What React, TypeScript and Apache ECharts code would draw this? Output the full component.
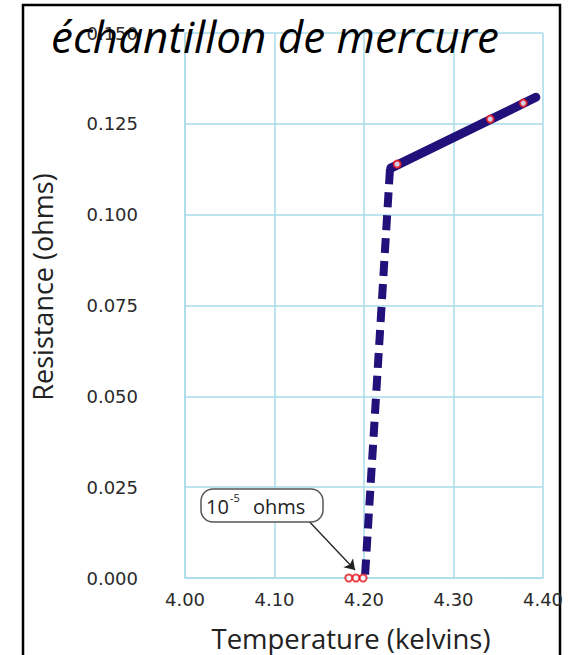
import React, { useEffect, useRef } from "react";
import * as echarts from "echarts";

const xTicks = [4.0, 4.1, 4.2, 4.3, 4.4];
const yTicks = [0, 0.025, 0.05, 0.075, 0.1, 0.125, 0.15];
const normalLine: [number, number][] = [
  [4.23, 0.1128],
  [4.392, 0.1323],
];
const transitionLine: [number, number][] = [
  [4.229, 0.1125],
  [4.201, 0.0],
];
const measured: [number, number][] = [
  [4.237, 0.1139],
  [4.341, 0.1263],
  [4.378, 0.1307],
  [4.183, 0.0],
  [4.191, 0.0],
  [4.199, 0.0],
];
const arrowFrom: [number, number] = [4.134, 0.0168];
const arrowTo: [number, number] = [4.19, 0.0022];

const TITLE = "échantillon de mercure";
const X_NAME = "Temperature (kelvins)";
const Y_NAME = "Resistance (ohms)";

export default function App() {
  const ref = useRef<HTMLDivElement>(null);
  useEffect(() => {
    if (!ref.current) return;
    const chart = echarts.init(ref.current, null, { renderer: "svg" });
    const grid = "#a9dcea";
    const navy = "#22117a";
    chart.setOption({
      animation: false,
      backgroundColor: "#ffffff",
      grid: { left: 185, right: 28, top: 33, bottom: 77 },
      xAxis: {
        type: "value",
        min: xTicks[0],
        max: xTicks[xTicks.length - 1],
        interval: 0.1,
        axisLine: { show: true, lineStyle: { color: grid, width: 1.5 } },
        axisTick: { show: false },
        splitLine: { show: true, lineStyle: { color: grid, width: 1.5 } },
        axisLabel: {
          margin: 12,
          fontFamily: "DejaVu Sans",
          fontSize: 18,
          color: "#2a2a2a",
          formatter: (v: number) => v.toFixed(2),
        },
      },
      yAxis: {
        type: "value",
        min: yTicks[0],
        max: yTicks[yTicks.length - 1],
        interval: 0.025,
        axisLine: { show: true, lineStyle: { color: grid, width: 1.5 } },
        axisTick: { show: false },
        splitLine: { show: true, lineStyle: { color: grid, width: 1.5 } },
        axisLabel: {
          margin: 47,
          fontFamily: "DejaVu Sans",
          fontSize: 18,
          color: "#2a2a2a",
          formatter: (v: number) => v.toFixed(3),
        },
      },
      series: [
        {
          type: "line",
          data: transitionLine,
          symbol: "none",
          lineStyle: { color: navy, width: 8, type: [15, 8], cap: "butt" },
          z: 2,
        },
        {
          type: "line",
          data: normalLine,
          symbol: "none",
          lineStyle: { color: navy, width: 9, cap: "round" },
          z: 3,
        },
        {
          type: "scatter",
          data: measured,
          symbol: "circle",
          symbolSize: 7,
          clip: false,
          itemStyle: { color: "#ffffff", borderColor: "#e8141e", borderWidth: 2 },
          z: 5,
          markLine: {
            silent: true,
            symbol: ["none", "arrow"],
            symbolSize: 10,
            label: { show: false },
            lineStyle: { color: "#222", width: 1.3, type: "solid" },
            data: [[{ coord: arrowFrom }, { coord: arrowTo }]],
          },
        },
      ],
      graphic: [
        {
          type: "rect",
          shape: { x: 23, y: 5, width: 537, height: 700 },
          style: { fill: "none", stroke: "#000", lineWidth: 2.5 },
          silent: true,
        },
        {
          type: "text",
          x: 51,
          y: 36,
          style: {
            text: TITLE,
            fontFamily: "Open Sans",
            fontStyle: "italic",
            fontSize: 44,
            fill: "#000",
            verticalAlign: "middle",
            align: "left",
          },
          z: 10,
        },
        {
          type: "text",
          x: 351,
          y: 638,
          style: {
            text: X_NAME,
            fontFamily: "Open Sans",
            fontSize: 27.5,
            fill: "#222",
            align: "center",
            verticalAlign: "middle",
          },
        },
        {
          type: "text",
          x: 42,
          y: 287,
          rotation: Math.PI / 2,
          style: {
            text: Y_NAME,
            fontFamily: "Open Sans",
            fontSize: 27,
            fill: "#222",
            align: "center",
            verticalAlign: "middle",
          },
        },
        {
          type: "rect",
          shape: { x: 201, y: 489, width: 122, height: 33, r: 12 },
          style: { fill: "#fff", stroke: "#555", lineWidth: 1.5 },
          z: 6,
        },
        {
          type: "text",
          x: 206,
          y: 506,
          style: {
            text: "10",
            fontFamily: "Open Sans",
            fontSize: 20,
            fill: "#222",
            verticalAlign: "middle",
          },
          z: 7,
        },
        {
          type: "text",
          x: 230,
          y: 497,
          style: {
            text: "-5",
            fontFamily: "Open Sans",
            fontSize: 11,
            fill: "#222",
            verticalAlign: "middle",
          },
          z: 7,
        },
        {
          type: "text",
          x: 253,
          y: 506,
          style: {
            text: "ohms",
            fontFamily: "Open Sans",
            fontSize: 20,
            fill: "#222",
            verticalAlign: "middle",
          },
          z: 7,
        },
      ],
    });
    return () => chart.dispose();
  }, []);
  return (
    <div
      ref={ref}
      style={{ position: "absolute", left: 0, top: 0, width: 571, height: 655 }}
    />
  );
}
